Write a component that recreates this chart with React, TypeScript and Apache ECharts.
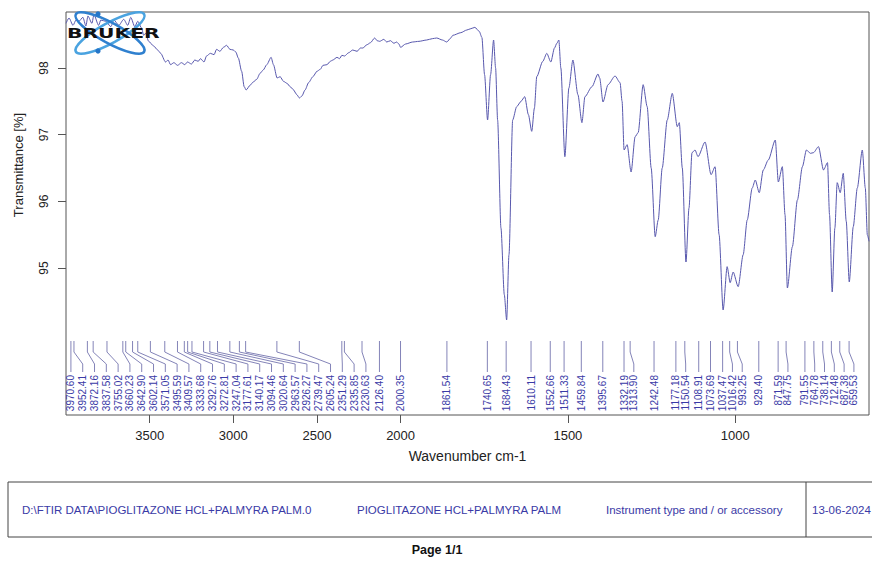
import React, { useEffect, useRef } from "react";
import * as echarts from "echarts";

// Spectrum (wavenumber cm-1, transmittance %)
const wavenumbers = [
  4000, 3982, 3958, 3940, 3923, 3899, 3881, 3869, 3845, 3833, 3805, 3792, 3762, 3732, 3714, 3684, 3655, 3631, 3613, 3589,
  3571, 3548, 3536, 3524, 3506, 3476, 3452, 3434, 3405, 3390, 3375, 3355, 3333, 3310, 3290, 3274, 3250, 3230, 3210, 3196,
  3175, 3160, 3137, 3115, 3100, 3080, 3059, 3040, 3020, 3000, 2985, 2970, 2950, 2935, 2923, 2900, 2881, 2860, 2840, 2821,
  2800, 2774, 2760, 2738, 2720, 2700, 2679, 2660, 2643, 2620, 2605, 2590, 2571, 2550, 2524, 2500, 2480, 2464, 2440, 2420,
  2405, 2380, 2365, 2351, 2335, 2310, 2286, 2260, 2240, 2226, 2200, 2180, 2155, 2140, 2125, 2100, 2083, 2060, 2040, 2024,
  2010, 2000, 1985, 1964, 1945, 1922, 1905, 1892, 1875, 1862, 1850, 1844, 1820, 1802, 1790, 1778, 1765, 1757, 1749, 1740,
  1731, 1722, 1716, 1710, 1700, 1690, 1683, 1676, 1665, 1653, 1640, 1629, 1618, 1608, 1600, 1593, 1575, 1563, 1551, 1540,
  1533, 1527, 1521, 1509, 1497, 1485, 1470, 1458, 1449, 1428, 1410, 1405, 1395, 1380, 1359, 1344, 1338, 1332, 1323, 1311,
  1299, 1290, 1275, 1263, 1251, 1239, 1230, 1218, 1203, 1188, 1173, 1167, 1158, 1147, 1138, 1129, 1120, 1111, 1090, 1072,
  1060, 1048, 1036, 1024, 1015, 1006, 991, 976, 964, 949, 940, 928, 916, 901, 880, 871, 859, 851, 844, 829,
  814, 799, 787, 775, 766, 751, 736, 724, 718, 710, 702, 695, 686, 677, 668, 659, 647, 635, 620, 611,
  605, 600,
];
const transmittance = [
  98.67, 98.75, 98.64, 98.72, 98.70, 98.76, 98.63, 98.78, 98.67, 98.80, 98.64, 98.72, 98.70, 98.62, 98.72, 98.64, 98.73, 98.64, 98.76, 98.62,
  98.70, 98.60, 98.49, 98.52, 98.40, 98.33, 98.27, 98.22, 98.09, 98.12, 98.05, 98.08, 98.04, 98.08, 98.05, 98.09, 98.06, 98.12, 98.10, 98.14,
  98.09, 98.18, 98.22, 98.20, 98.28, 98.25, 98.31, 98.34, 98.28, 98.27, 98.24, 98.15, 97.95, 97.72, 97.67, 97.74, 97.79, 97.83, 97.92, 97.97,
  98.05, 98.16, 98.05, 97.85, 97.87, 97.80, 97.77, 97.72, 97.68, 97.60, 97.55, 97.58, 97.67, 97.78, 97.87, 97.95, 97.98, 98.04, 98.05, 98.10,
  98.12, 98.16, 98.14, 98.19, 98.18, 98.23, 98.27, 98.25, 98.30, 98.30, 98.35, 98.38, 98.45, 98.41, 98.40, 98.43, 98.39, 98.41, 98.37, 98.39,
  98.36, 98.31, 98.36, 98.39, 98.40, 98.42, 98.44, 98.45, 98.42, 98.39, 98.45, 98.49, 98.53, 98.57, 98.59, 98.61, 98.55, 98.46, 97.90, 97.22,
  97.90, 98.42, 98.00, 97.22, 95.60, 94.60, 94.22, 95.20, 97.22, 97.42, 97.50, 97.57, 97.30, 97.05, 97.40, 97.87, 98.10, 98.22, 98.09, 98.30,
  98.37, 98.42, 98.00, 96.67, 97.70, 98.12, 97.60, 97.18, 97.57, 97.72, 97.91, 97.85, 97.49, 97.75, 97.88, 97.78, 97.50, 96.77, 96.85, 96.44,
  96.97, 97.03, 97.75, 97.42, 96.50, 95.47, 95.72, 96.50, 97.22, 97.62, 97.12, 97.18, 96.50, 95.09, 95.90, 96.73, 96.77, 96.67, 96.89, 96.40,
  96.52, 95.50, 94.37, 95.02, 94.78, 94.94, 94.72, 95.20, 95.72, 96.20, 96.32, 96.13, 96.47, 96.62, 96.92, 96.29, 96.52, 95.80, 94.70, 95.32,
  96.02, 96.52, 96.77, 96.72, 96.73, 96.82, 96.47, 96.58, 95.80, 94.64, 95.60, 96.28, 96.13, 96.42, 95.70, 94.79, 95.62, 96.20, 96.77, 96.20,
  95.50, 95.40,
];

// Peak picking labels
const peakLabels = [
  "3970.60", "3952.41", "3872.16", "3837.58", "3755.02", "3660.23", "3642.90", "3602.14", "3571.05", "3495.59",
  "3409.57", "3333.68", "3292.76", "3272.81", "3247.04", "3177.61", "3140.17", "3094.46", "3020.64", "2963.57",
  "2926.27", "2739.47", "2605.24", "2351.29", "2335.85", "2230.63", "2126.40", "2000.35", "1861.54", "1740.65",
  "1684.43", "1610.11", "1552.66", "1511.33", "1459.84", "1395.67", "1332.19", "1313.90", "1242.48", "1177.18",
  "1150.54", "1108.91", "1073.69", "1037.47", "1016.42", "993.25", "929.40", "871.59", "847.75", "791.55",
  "764.78", "738.14", "712.48", "687.38", "659.53",
];
const peaks = peakLabels.map(Number);

const xTickValues = [3500, 3000, 2500, 2000, 1500, 1000];
const yTickValues = [95, 96, 97, 98];

const footerTexts = [
  "D:\\FTIR DATA\\PIOGLITAZONE HCL+PALMYRA PALM.0",
  "PIOGLITAZONE HCL+PALMYRA PALM",
  "Instrument type and / or accessory",
  "13-06-2024",
];

// Bruker-style axis: 4000-2000 at half scale, 2000-600 at full scale
const toX = (w: number) => (w >= 2000 ? (4000 - w) / 2 : 1000 + (2000 - w));
const fromX = (x: number) => (x <= 1000 ? 4000 - 2 * x : 2000 - (x - 1000));

const FONT = "Liberation Sans, Arial, sans-serif";
const BLUE_TEXT = "#3a3aa6";

export default function App() {
  const ref = useRef<HTMLDivElement>(null);
  useEffect(() => {
    if (!ref.current) return;
    const chart = echarts.init(ref.current, null, { renderer: "svg" });
    const lineData = wavenumbers.map((w, i) => [toX(w), transmittance[i]]);
    const option: any = {
      animation: false,
      backgroundColor: "#ffffff",
      grid: {
        left: 66,
        top: 12,
        right: 3,
        bottom: 146,
        show: true,
        borderColor: "#555",
        borderWidth: 1,
        backgroundColor: "transparent",
        outerBoundsMode: "none",
      },
      xAxis: {
        type: "value",
        min: 0,
        max: toX(600),
        name: "Wavenumber cm-1",
        nameLocation: "middle",
        nameGap: 34,
        nameTextStyle: { fontFamily: FONT, fontSize: 14, color: "#222" },
        axisLine: { show: false },
        splitLine: { show: false },
        axisTick: {
          show: true,
          length: 8,
          lineStyle: { color: "#555" },
          customValues: xTickValues.map(toX),
        },
        axisLabel: {
          margin: 14,
          fontFamily: FONT,
          fontSize: 13,
          color: "#222",
          customValues: xTickValues.map(toX),
          formatter: (v: number) => String(Math.round(fromX(v))),
        },
      },
      yAxis: {
        type: "value",
        min: 92.795,
        max: 98.84,
        axisLine: { show: false },
        splitLine: { show: false },
        axisTick: {
          show: true,
          length: 8,
          lineStyle: { color: "#555" },
          customValues: yTickValues,
        },
        axisLabel: {
          rotate: 90,
          margin: 16,
          fontFamily: FONT,
          fontSize: 12,
          color: "#222",
          customValues: yTickValues,
        },
      },
      series: [
        {
          type: "line",
          data: lineData,
          showSymbol: false,
          smooth: 0.25,
          smoothMonotone: "x",
          lineStyle: { color: "#5858ad", width: 1 },
          silent: true,
          z: 3,
        },
        {
          type: "custom",
          silent: true,
          data: peaks.map((w) => [toX(w), 93]),
          encode: { x: 0, y: 1 },
          z: 4,
          renderItem: (params: any, api: any) => {
            const i = params.dataIndex;
            const cs = params.coordSys;
            const bottom = cs.y + cs.height;
            const px = peaks.map((w) => api.coord([toX(w), 95])[0]);
            const lx: number[] = [];
            for (let k = 0; k < peaks.length; k++) {
              const gap = peaks[k] >= 2000 ? 11.8 : 9.8;
              lx[k] = k === 0 ? px[0] : Math.max(px[k], lx[k - 1] + gap);
            }
            return {
              type: "group",
              children: [
                {
                  type: "polyline",
                  shape: {
                    points: [
                      [px[i], bottom - 74],
                      [px[i], bottom - 63],
                      [lx[i], bottom - 51],
                      [lx[i], bottom - 43],
                    ],
                  },
                  style: { stroke: "#8484b8", lineWidth: 1, fill: null },
                },
                {
                  type: "text",
                  x: lx[i],
                  y: bottom - 40,
                  rotation: Math.PI / 2,
                  style: {
                    text: peakLabels[i],
                    x: 0,
                    y: 0,
                    align: "right",
                    verticalAlign: "middle",
                    fontFamily: FONT,
                    fontSize: 10,
                    fill: BLUE_TEXT,
                  },
                },
              ],
            };
          },
        },
      ],
      graphic: [
        // y axis title
        {
          type: "text",
          x: 18,
          y: 165,
          rotation: Math.PI / 2,
          z: 10,
          style: {
            text: "Transmittance [%]",
            x: 0,
            y: 0,
            align: "center",
            verticalAlign: "middle",
            fontFamily: FONT,
            fontSize: 13,
            fill: "#222",
          },
        },
        // Bruker logo
        {
          type: "ellipse",
          x: 110,
          y: 33,
          rotation: 0.5,
          z: 100,
          shape: { cx: 0, cy: 0, rx: 39, ry: 10 },
          style: { fill: null, stroke: "#4aa3e0", lineWidth: 2.5 },
        },
        {
          type: "ellipse",
          x: 110,
          y: 33,
          rotation: -0.5,
          z: 100,
          shape: { cx: 0, cy: 0, rx: 39, ry: 10 },
          style: { fill: null, stroke: "#2f80cf", lineWidth: 2.5 },
        },
        { type: "circle", z: 101, shape: { cx: 98, cy: 14, r: 2.6 }, style: { fill: "#2576c8" } },
        { type: "circle", z: 101, shape: { cx: 98, cy: 51, r: 2.6 }, style: { fill: "#2576c8" } },
        {
          type: "text",
          x: 67,
          y: 33.5,
          scaleX: 1.45,
          z: 102,
          style: {
            text: "BRUKER",
            x: 0,
            y: 0,
            align: "left",
            verticalAlign: "middle",
            fontFamily: "DejaVu Sans",
            fontWeight: 900,
            fontSize: 14,
            fill: "#111",
          },
        },
        // footer box
        {
          type: "rect",
          z: 10,
          shape: { x: 8, y: 482, width: 880, height: 55 },
          style: { fill: null, stroke: "#444", lineWidth: 1 },
        },
        {
          type: "line",
          z: 10,
          shape: { x1: 806, y1: 482, x2: 806, y2: 537 },
          style: { stroke: "#444", lineWidth: 1 },
        },
        ...[22, 357, 606, 812].map((x, k) => ({
          type: "text",
          x,
          y: 510,
          z: 10,
          style: {
            text: footerTexts[k],
            x: 0,
            y: 0,
            align: "left",
            verticalAlign: "middle",
            fontFamily: FONT,
            fontSize: 11.5,
            fill: BLUE_TEXT,
          },
        })),
        {
          type: "text",
          x: 437,
          y: 550,
          z: 10,
          style: {
            text: "Page 1/1",
            x: 0,
            y: 0,
            align: "center",
            verticalAlign: "middle",
            fontFamily: FONT,
            fontWeight: "bold",
            fontSize: 12.5,
            fill: "#111",
          },
        },
      ],
    };
    chart.setOption(option);
    return () => chart.dispose();
  }, []);
  return (
    <div
      ref={ref}
      style={{ position: "fixed", left: 0, top: 0, width: 872, height: 561, background: "#fff" }}
    />
  );
}
